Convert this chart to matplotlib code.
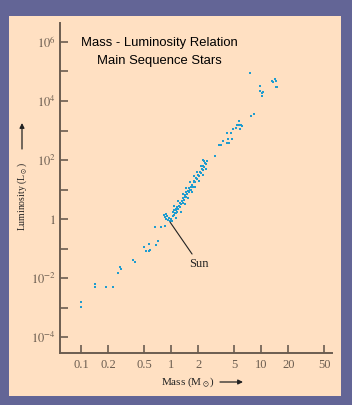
import matplotlib.pyplot as plt
from matplotlib.patches import Rectangle
from matplotlib.ticker import NullLocator

plt.rcParams['mathtext.fontset'] = 'stix'
plt.rcParams['font.family'] = ['Liberation Serif', 'DejaVu Serif']

# Masa (masas solares) y luminosidad (luminosidades solares) de estrellas de secuencia principal
mass_low = [0.101, 0.101, 0.145, 0.145, 0.191, 0.229, 0.26, 0.273, 0.28, 0.38, 0.40,
            0.50, 0.57, 0.53, 0.57, 0.586, 0.68, 0.72, 0.67, 0.78, 0.86]
lum_low = [0.00155, 0.00104, 0.0063, 0.0049, 0.0049, 0.0049, 0.0148, 0.0236, 0.0203, 0.041, 0.035,
           0.112, 0.142, 0.082, 0.082, 0.089, 0.13, 0.18, 0.54, 0.54, 0.58]

mass_sun = [0.84, 0.86, 0.88, 0.90, 0.93, 0.95, 0.975, 1.03, 0.88, 1.0]
lum_sun = [1.37, 1.17, 1.0, 1.26, 0.92, 1.08, 0.86, 0.86, 1.48, 1.0]

mass_band = [1.047, 1.047, 1.072, 1.072, 1.096, 1.122, 1.122, 1.148, 1.175, 1.175, 1.202, 1.230,
             1.259, 1.259, 1.288, 1.318, 1.349, 1.349, 1.380, 1.413, 1.445, 1.479, 1.479, 1.514,
             1.549, 1.585, 1.585, 1.622, 1.660, 1.660, 1.698, 1.738, 1.778, 1.820, 1.862, 1.905,
             1.950, 1.995, 2.042, 2.089, 2.138, 2.188, 2.239, 2.291, 2.344, 2.399, 2.455, 2.512,
             1.072, 1.148, 1.202, 1.288, 1.349, 1.413, 1.479, 1.549, 1.622, 1.698, 1.778, 1.862,
             1.950, 2.042, 2.138, 2.239, 2.344, 2.455, 2.291]
lum_band = [1.78, 1.26, 2.0, 1.41, 1.58, 2.24, 1.58, 2.0, 2.51, 1.78, 2.24, 2.82,
            3.55, 2.51, 3.16, 3.98, 5.01, 3.55, 4.47, 5.62, 6.31, 7.94, 5.62, 7.08,
            8.91, 11.2, 7.94, 10.0, 12.6, 10.0, 14.1, 12.6, 17.8, 20.0, 17.8, 25.1,
            22.4, 31.6, 28.2, 39.8, 35.5, 50.1, 44.7, 63.1, 56.2, 79.4, 70.8, 89.1,
            2.82, 1.12, 3.98, 1.78, 7.08, 3.16, 11.2, 5.01, 17.8, 7.94, 28.2, 12.6,
            39.8, 20.0, 63.1, 31.6, 89.1, 50.1, 100.0]

mass_high = [3.06, 3.39, 3.57, 3.76, 4.16, 4.37, 4.16, 4.60, 4.27, 4.72, 4.84, 5.23, 5.36,
             5.64, 5.93, 6.09, 5.64, 5.78, 7.66, 8.26,
             7.46, 9.62, 9.62, 10.1, 10.4, 10.1, 13.1, 13.7, 14.5, 14.1, 14.8, 15.2]
lum_high = [138, 324, 324, 437, 378, 378, 825, 825, 516, 516, 1120, 1210, 1550,
            1550, 1550, 1420, 2090, 1120, 3090, 3630,
            89000, 32300, 21900, 18600, 20300, 14800, 47600, 43900, 47600, 56800, 29700, 29700]

x_ticks = [0.1, 0.2, 0.5, 1, 2, 5, 10, 20, 50]
x_labels = ['0.1', '0.2', '0.5', '1', '2', '5', '10', '20', '50']
y_ticks = [1e-4, 1e-2, 1, 1e2, 1e4, 1e6]
y_labels = [r'$10^{-4}$', r'$10^{-2}$', r'$1$', r'$10^{2}$', r'$10^{4}$', r'$10^{6}$']
y_minor = [1e-3, 1e-1, 10, 1e3, 1e5]

axis_col = '#6b5d50'
dot_col = '#1f9ccf'

fig = plt.figure(figsize=(3.52, 4.05), dpi=100, facecolor='#636596')
fig.patches.append(Rectangle((9 / 352, 1 - 396 / 405), 332 / 352, 380 / 405,
                             transform=fig.transFigure, facecolor='#ffe0c2',
                             edgecolor='none', zorder=-10))

ax = fig.add_axes([60 / 352, 52 / 405, 272 / 352, 330 / 405])
ax.set_zorder(1)
ax.set_facecolor('none')
ax.set_xscale('log')
ax.set_yscale('log')

for m, l in [(mass_low, lum_low), (mass_sun, lum_sun), (mass_band, lum_band), (mass_high, lum_high)]:
    ax.scatter(m, l, s=4, marker='s', color=dot_col, linewidths=0)

ax.set_xlim(0.0586, 61.2)
ax.set_ylim(2.88e-5, 4.4e6)

ax.set_xticks(x_ticks, x_labels)
ax.xaxis.set_minor_locator(NullLocator())
ax.set_yticks(y_ticks, y_labels)
ax.set_yticks(y_minor, minor=True)
ax.tick_params(which='both', direction='in', length=6, width=1.2, color=axis_col,
               labelcolor=axis_col, labelsize=9)
ax.tick_params(axis='y', which='minor', labelleft=False)
ax.tick_params(axis='x', pad=4)
ax.tick_params(axis='y', pad=3)

for s in ['top', 'right']:
    ax.spines[s].set_visible(False)
for s in ['left', 'bottom']:
    ax.spines[s].set_color(axis_col)
    ax.spines[s].set_linewidth(1.4)

# Sol
ax.annotate('Sun', xy=(0.975, 0.79), xytext=(2.04, 0.030), ha='center', va='center',
            fontsize=9, color='#222222',
            arrowprops=dict(arrowstyle='-', color='#222222', lw=0.8, shrinkA=1, shrinkB=0))

# Titulo
fig.text(159 / 352, 1 - 43 / 405, 'Mass - Luminosity Relation', ha='center', va='center',
         fontsize=9.4, family='Liberation Sans', color='black')
fig.text(159 / 352, 1 - 61 / 405, 'Main Sequence Stars', ha='center', va='center',
         fontsize=9.4, family='Liberation Sans', color='black')

# Ejes
fig.text(22 / 352, 1 - 196 / 405, r'Luminosity (L$_\odot$)', rotation=90, ha='center',
         va='center', fontsize=7, color='#222222')
ax.annotate('', xy=(22 / 352, 1 - 123 / 405), xytext=(22 / 352, 1 - 149 / 405),
            xycoords='figure fraction', textcoords='figure fraction',
            arrowprops=dict(arrowstyle='-|>', color='#222222', lw=0.9, mutation_scale=7,
                            shrinkA=0, shrinkB=0))
fig.text(188 / 352, 1 - 382 / 405, r'Mass (M$_\odot$)', ha='center', va='center',
         fontsize=8, color='#222222')
ax.annotate('', xy=(243 / 352, 1 - 382 / 405), xytext=(220 / 352, 1 - 382 / 405),
            xycoords='figure fraction', textcoords='figure fraction',
            arrowprops=dict(arrowstyle='-|>', color='#222222', lw=0.9, mutation_scale=7,
                            shrinkA=0, shrinkB=0))

plt.savefig('out.png', dpi=100, facecolor=fig.get_facecolor())
